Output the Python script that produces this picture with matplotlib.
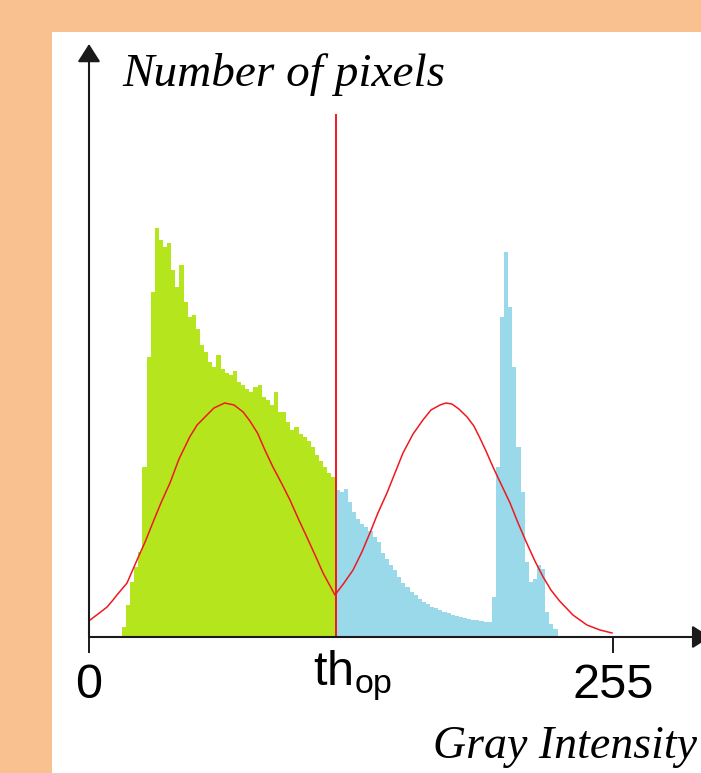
import matplotlib.pyplot as plt
import numpy as np
from matplotlib.patches import Rectangle

# histogram of gray levels, bins of 2 levels starting at 16 (height in arbitrary units)
bin_start = 16
bin_width = 2
counts = [10, 32, 55, 70, 85, 170, 280, 345, 409, 397, 390, 394, 367, 350, 372, 335,
          320, 322, 308, 292, 285, 275, 270, 282, 268, 264, 262, 266, 255, 252, 248, 245,
          250, 252, 240, 237, 232, 245, 225, 225, 215, 207, 210, 203, 200, 196, 190, 182,
          176, 170, 164, 160,
          147, 145, 148, 135, 125, 118, 113, 110, 106, 100, 95, 84, 78, 72, 67, 60,
          54, 50, 45, 42, 38, 35, 33, 30, 29, 27, 25, 24, 22, 21, 20, 19,
          18, 17, 17, 16, 15, 15, 40, 170, 320, 385, 330, 270, 190, 145, 75, 55,
          58, 72, 68, 25, 13, 8]
th_op = 120

# fitted curve (two bumps meeting at the threshold)
curve_x = [0.5, 4.4, 8.8, 11.7, 13.6, 18.5, 23.8, 27.5, 31, 35, 39.4, 43.8, 49, 52.6,
           57.4, 60.8, 66, 70.6, 75, 78.3, 82, 85.6, 89.5, 93.9, 97.8, 101.7, 106, 110,
           113.9, 116.8, 119.7,
           124.1, 128.5, 132.8, 136.7, 140.6, 145, 148.9, 152.8, 157.7, 162.5, 166.4,
           170.8, 173.7, 176.6, 180, 184, 187.3, 190, 193.2, 196.6, 200.5, 204.9, 208.8,
           213, 217, 221, 224.8, 229, 235.5, 242.3, 248.7, 254.5]
curve_y = [17, 23, 30, 37, 42, 54, 79, 96, 114, 134, 154, 178, 200, 212,
           222, 229, 234, 232, 225, 216, 204, 187, 170, 153, 137, 119, 100, 82,
           64, 53, 42,
           54, 67, 85, 104, 124, 144, 164, 184, 203, 217, 227,
           232, 234, 233, 228, 220, 211, 200, 186, 170, 153, 134, 114,
           94, 76, 60, 47, 36, 22, 12, 7, 4]
th_line_top = 522

tick_vals = [0, 255]
tick_text = ['0', '255']

W, H = 701, 773
orange = '#F9C190'
green = '#B5E61D'
blue = '#99D9EA'
red = '#F01820'

plt.rcParams['mathtext.fontset'] = 'custom'
plt.rcParams['mathtext.rm'] = 'Liberation Sans'

fig = plt.figure(figsize=(W / 100, H / 100), dpi=100, facecolor=orange)
fig.patches.append(Rectangle((52 / W, 0), 1, 1 - 32 / H, transform=fig.transFigure,
                             facecolor='white', edgecolor='none', zorder=-5))

# axes: x origin at pixel 89, y origin at pixel 637
x0, y0 = 89, 637
px_per_level = (613 - 89) / 255
ax = fig.add_axes([x0 / W, (H - y0) / H, (W - x0) / W, (y0 - 44) / H])
ax.set_zorder(2)
ax.set_xlim(0, (W - x0) / px_per_level)
ax.set_ylim(0, y0 - 44)
ax.patch.set_alpha(0)
for s in ax.spines.values():
    s.set_visible(False)

edges = bin_start + bin_width * np.arange(len(counts) + 1)
counts = np.array(counts)
split = int((th_op - bin_start) / bin_width)
ax.stairs(counts[:split], edges[:split + 1], fill=True, color=green, lw=0)
ax.stairs(counts[split:], edges[split:], fill=True, color=blue, lw=0)

ax.plot(curve_x, curve_y, color=red, lw=1.1)
ax.plot([th_op, th_op], [0, th_line_top], color=red, lw=1.4)

# arrows for the axes
arrow_kw = dict(arrowstyle='-|>,head_length=0.55,head_width=0.35', color='#1a1a1a',
                lw=1.5, mutation_scale=20, shrinkA=0, shrinkB=0)
ax.annotate('', xy=(0, 1), xytext=(0, 0), xycoords='axes fraction',
            arrowprops=arrow_kw, annotation_clip=False)
ax.annotate('', xy=(1.015, 0), xytext=(0, 0), xycoords='axes fraction',
            arrowprops=arrow_kw, annotation_clip=False)

ax.set_yticks([])
ax.set_xticks(tick_vals)
ax.set_xticklabels(tick_text, fontsize=35, family='Liberation Sans')
ax.tick_params(axis='x', direction='out', length=11.5, width=1.4, color='#1a1a1a', pad=7)

ax.text(th_op - 11, -49, r'th$_{\mathrm{op}}$', fontsize=35, family='Liberation Sans',
        ha='left', va='baseline', transform=ax.transData)

fig.text(122 / W, 1 - 86 / H, 'Number of pixels', fontsize=34, family='Liberation Serif',
         style='italic', ha='left', va='baseline')
fig.text(433 / W, 1 - 758 / H, 'Gray Intensity', fontsize=33, family='Liberation Serif',
         style='italic', ha='left', va='baseline')

fig.savefig('out.png', dpi=100, facecolor=orange)
